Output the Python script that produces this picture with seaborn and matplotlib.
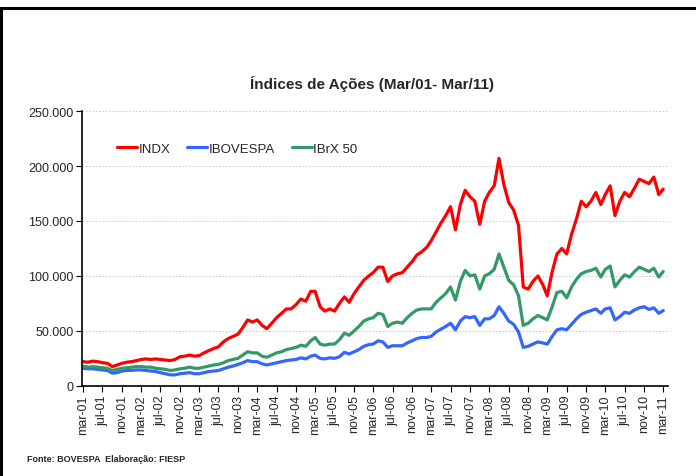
import numpy as np
import pandas as pd
import seaborn as sns
import matplotlib.pyplot as plt
from matplotlib.lines import Line2D
from matplotlib.ticker import FuncFormatter

# monthly closing values (thousands), mar/01 .. mar/11
indx = [22, 21.5, 22.5, 22, 21, 20.5, 17.5, 19, 20.5, 21.5, 22, 23,
        24, 24.5, 24, 24.5, 24, 23.5, 23, 24, 26.5, 27, 28, 27,
        27.5, 30, 32, 34, 35.5, 40, 43, 45, 47, 53, 60, 58,
        60, 55, 52, 57, 62, 66, 70, 70, 74, 79, 77, 86,
        86, 72, 68, 70, 68, 75, 81, 76, 84, 90, 96, 100,
        103, 108, 108, 95, 100, 102, 103, 108, 113, 119, 122, 126,
        132, 140, 148, 155, 163, 142, 165, 178, 172, 168, 147, 168,
        176, 182, 207, 183, 167, 160, 146, 90, 88, 95, 100, 92,
        82, 104, 120, 125, 120, 138, 152, 168, 163, 168, 176, 165,
        174, 182, 155, 168, 176, 172, 180, 188, 186, 184, 190, 174,
        179]
ibovespa = [16, 15.5, 15.5, 15, 14.5, 14, 11.5, 12, 13.5, 14, 14, 14.5,
            14.5, 14, 13.5, 13, 12, 11, 10, 10, 11, 11.5, 12, 11,
            11, 12, 13, 13.5, 14, 15.5, 17, 18, 19.5, 21, 23, 22,
            22, 20, 19, 20, 21, 22, 23, 23.5, 24, 25.5, 24.5, 27,
            28, 25, 24.5, 25.5, 25, 26.5, 30.5, 29, 31, 33, 36, 37.5,
            38, 41, 40, 35, 36.5, 36.5, 36.5, 39, 41, 43, 44, 44,
            45, 49, 51.5, 54, 57, 51, 59, 63, 62, 63, 55, 61,
            61, 64, 72, 66, 59, 56, 49, 35, 36, 38, 40, 39,
            38, 45, 51, 52, 51, 56, 61, 65, 67, 68.5, 70, 66,
            70, 71, 60, 63, 67, 66, 69, 71, 72, 69.5, 71, 66,
            68.5]
ibrx50 = [18, 17, 17.5, 17, 16.5, 16, 14, 15, 16, 16.5, 17, 17.5,
          17.5, 17, 17, 16, 15.5, 15, 14, 14.5, 15.5, 16, 17, 16,
          16, 17, 18, 19, 19.5, 21, 23, 24, 25, 28, 31, 30,
          30, 27, 26, 28, 30, 31, 33, 34, 35, 37, 36, 41,
          44, 38, 37, 38, 38, 42, 48, 46, 50, 54, 59, 61,
          62, 66, 65, 54, 57, 58, 57, 62, 66, 69, 70, 70,
          70, 76, 80, 84, 90, 78, 95, 105, 100, 101, 88, 100,
          102, 106, 120, 108, 96, 92, 82, 55, 57, 61, 64, 62,
          60, 72, 85, 86, 80, 90, 97, 102, 104, 105, 107, 99,
          106, 109, 90, 96, 101, 99, 104, 108, 106, 104, 107, 99,
          104]
series_names = ["INDX", "IBOVESPA", "IBrX 50"]
month_names = ["jan", "fev", "mar", "abr", "mai", "jun",
               "jul", "ago", "set", "out", "nov", "dez"]

dates = pd.date_range("2001-03-01", periods=len(indx), freq="MS")
df = pd.DataFrame({"data": dates, "INDX": indx, "IBOVESPA": ibovespa,
                   "IBrX 50": ibrx50})
df = df.melt(id_vars="data", var_name="indice", value_name="valor")
df["valor"] = df["valor"] * 1000

sns.set_style("white")
plt.rcParams["font.family"] = ["Liberation Sans", "DejaVu Sans"]

fig = plt.figure(figsize=(6.96, 4.77), dpi=100)
ax = fig.add_axes([0.118, 0.189, 0.842, 0.576])

palette = {"INDX": "#FF0000", "IBOVESPA": "#3366FF", "IBrX 50": "#339966"}
sns.lineplot(data=df, x="data", y="valor", hue="indice", hue_order=series_names,
             palette=palette, linewidth=2.3, ax=ax)

ax.set_ylim(0, 250000)
ax.set_yticks(np.arange(0, 250001, 50000))
ax.yaxis.set_major_formatter(
    FuncFormatter(lambda v, p: f"{int(v):,}".replace(",", ".")))
ax.grid(axis="y", color="#c4c4c4", linestyle=(0, (2, 2)), linewidth=0.6)
ax.set_axisbelow(True)

ticks = dates[::4]
ax.set_xticks(ticks)
ax.set_xticklabels([f"{month_names[d.month - 1]}-{d.strftime('%y')}" for d in ticks],
                   rotation=90)
ax.set_xlim(dates[0] - pd.Timedelta(days=6), dates[-1] + pd.Timedelta(days=31))
ax.tick_params(axis="both", labelsize=9, length=4, direction="out",
               color="#000000", left=True, bottom=True, pad=2)
ax.set_xlabel("")
ax.set_ylabel("")

for side in ["top", "right"]:
    ax.spines[side].set_visible(False)
for side in ["left", "bottom"]:
    ax.spines[side].set_color("black")
    ax.spines[side].set_linewidth(1.2)

ax.legend(loc="center", bbox_to_anchor=(0.341, 0.686), bbox_transform=fig.transFigure,
          ncol=3, frameon=False, fontsize=9.5, handlelength=1.5, handletextpad=0.1,
          columnspacing=1.3)

fig.text(0.535, 0.824, "Índices de Ações (Mar/01- Mar/11)", ha="center", va="center",
         fontsize=11, fontweight="bold")
fig.text(0.039, 0.037, "Fonte: BOVESPA  Elaboração: FIESP", ha="left", va="center",
         fontsize=6.5, fontweight="bold")

# outer frame
fig.add_artist(Line2D([0, 1], [0.981, 0.981], color="black", linewidth=2.2,
                      transform=fig.transFigure))
fig.add_artist(Line2D([0.002, 0.002], [0, 0.981], color="black", linewidth=2.2,
                      transform=fig.transFigure))

fig.savefig("out.png", dpi=100)
